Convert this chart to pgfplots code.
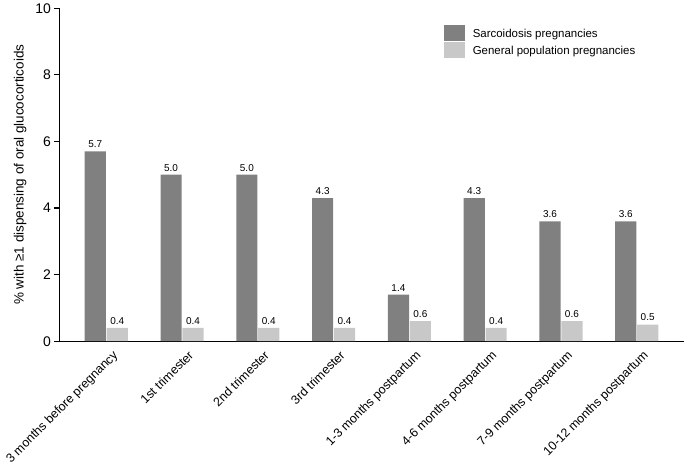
\documentclass[border=0pt]{standalone}
\usepackage{pgfplots}
\pgfplotsset{compat=1.18}
\usepackage{fontspec}
\setmainfont{Liberation Sans}
\definecolor{darkbar}{HTML}{808080}
\definecolor{lightbar}{HTML}{C8C8C8}
\begin{document}
\begin{tikzpicture}
\begin{axis}[
  ybar,
  scale only axis,
  width=627pt, height=334pt,
  xmin=-0.62, xmax=7.63,
  ymin=0, ymax=10,
  ytick={0,2,4,6,8,10},
  xtick={0,1,2,3,4,5,6,7},
  xticklabels={3 months before pregnancy,1st trimester,2nd trimester,3rd trimester,1-3 months postpartum,4-6 months postpartum,7-9 months postpartum,10-12 months postpartum},
  x tick label style={rotate=45, anchor=north east, font=\fontsize{12.5}{14}\selectfont, xshift=5pt, yshift=-3pt},
  y tick label style={font=\fontsize{14}{16}\selectfont},
  /pgf/number format/assume math mode=true,
  axis lines*=left,
  axis line style={line width=1.2pt, black},
  major x tick style={draw=none},
  ytick style={line width=1.2pt, black},
  tick align=outside,
  major tick length=5pt,
  ylabel={\% with ≥1 dispensing of oral glucocorticoids},
  ylabel style={font=\fontsize{13.5}{15}\selectfont},
  ylabel shift=2pt,
  legend style={at={(0.61,0.955)}, anchor=north west, draw=none, fill=none, font=\fontsize{11.5}{13}\selectfont, row sep=1pt},
  legend cell align=left,
  legend image code/.code={\fill[#1] (0cm,-0.24cm) rectangle (0.74cm,0.32cm);},
  nodes near coords,
  nodes near coords style={font=\fontsize{10}{12}\selectfont, /pgf/number format/.cd, fixed, fixed zerofill, precision=1},
  bar width=0.28,
]
\addplot[fill=darkbar, draw=none, bar shift=-0.145] coordinates {(0,5.7) (1,5.0) (2,5.0) (3,4.3) (4,1.4) (5,4.3) (6,3.6) (7,3.6)};
\addlegendentry{\hspace{6pt}Sarcoidosis pregnancies}
\addplot[fill=lightbar, draw=none, bar shift=0.145] coordinates {(0,0.4) (1,0.4) (2,0.4) (3,0.4) (4,0.6) (5,0.4) (6,0.6) (7,0.5)};
\addlegendentry{\hspace{6pt}General population pregnancies}
\end{axis}
\end{tikzpicture}
\end{document}
